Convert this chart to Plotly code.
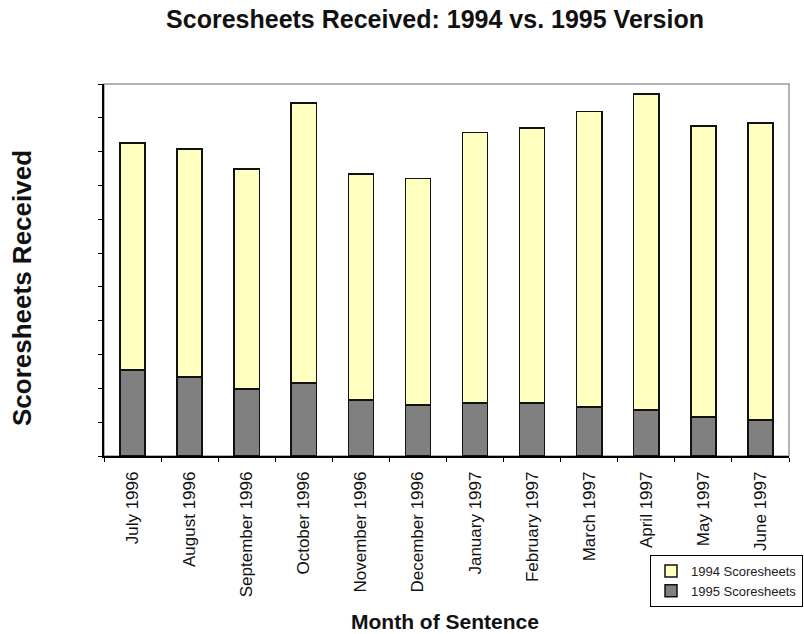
import plotly.graph_objects as go

months = ["July 1996", "August 1996", "September 1996", "October 1996",
          "November 1996", "December 1996", "January 1997", "February 1997",
          "March 1997", "April 1997", "May 1997", "June 1997"]
v1995 = [254, 234, 198, 216, 166, 151, 157, 157, 145, 136, 115, 107]
v1994 = [672, 674, 651, 828, 668, 669, 799, 813, 873, 935, 861, 878]
yticks = list(range(0, 1101, 100))

FONT = "Liberation Sans, Arial, sans-serif"

W, H = 804, 634
L, T, R, B = 104, 84, 15, 178
PW = W - L - R
PH = H - T - B
OX, OY = L, T  # screen coords of plot area top-left (page margin removed)


def px(xs):
    return (xs - OX) / PW


def py(ys):
    return (OY + PH - ys) / PH


fig = go.Figure()
fig.add_trace(go.Bar(x=months, y=v1995, name="1995 Scoresheets",
                     marker=dict(color="#808080", line=dict(color="#111111", width=1.5))))
fig.add_trace(go.Bar(x=months, y=v1994, name="1994 Scoresheets",
                     marker=dict(color="#FFFFC0", line=dict(color="#111111", width=1.5))))

fig.update_layout(
    width=W, height=H,
    barmode="stack", bargap=0.56,
    plot_bgcolor="white", paper_bgcolor="white",
    font=dict(family=FONT, color="black", size=12),
    margin=dict(l=L, r=R, t=T, b=B, autoexpand=False),
    title=dict(text="<b>Scoresheets Received: 1994 vs. 1995 Version</b>",
               x=435 / W, xanchor="center", y=1 - 19 / H, yanchor="middle",
               font=dict(size=25, family=FONT, color="#111111")),
    showlegend=True,
    legend=dict(x=px(650), y=py(555), xanchor="left", yanchor="top",
                traceorder="reversed", bordercolor="black", borderwidth=1,
                bgcolor="white", font=dict(size=13, family=FONT, color="#222222"),
                itemwidth=30, tracegroupgap=0),
    xaxis=dict(showline=True, linecolor="black", linewidth=1.5,
               ticks="outside", ticklen=4, tickcolor="black", tickson="boundaries",
               tickangle=-90, tickfont=dict(size=17, family=FONT, color="#111111"),
               ticklabelstandoff=7,
               automargin=False, showgrid=False),
    yaxis=dict(range=[0, 1100], tickvals=yticks,
               showticklabels=False, showline=True, linecolor="black", linewidth=1.5,
               ticks="outside", ticklen=4, tickcolor="black",
               showgrid=False, zeroline=False, automargin=False),
    yaxis2=dict(range=[0, 1100], tickvals=yticks, overlaying="y", side="left",
                anchor="x", showticklabels=False, showline=False,
                ticks="inside", ticklen=4, tickcolor="black",
                showgrid=False, zeroline=False, automargin=False),
    shapes=[dict(type="rect", xref="paper", yref="paper", x0=0, x1=1, y0=0, y1=1,
                 line=dict(color="#999999", width=1.5), layer="below")],
    annotations=[
        dict(text="<b>Month of Sentence</b>", xref="paper", yref="paper",
             x=px(445), y=py(621), xanchor="center", yanchor="middle",
             showarrow=False, font=dict(size=21, family=FONT, color="#111111")),
        dict(text="<b>Scoresheets Received</b>", xref="paper", yref="paper",
             x=px(22), y=py(288), xanchor="center", yanchor="middle",
             textangle=-90, showarrow=False, font=dict(size=26, family=FONT, color="#111111")),
    ],
)

fig.write_html("out.html", config={"displayModeBar": False},
               post_script="document.body.style.margin='0';")
